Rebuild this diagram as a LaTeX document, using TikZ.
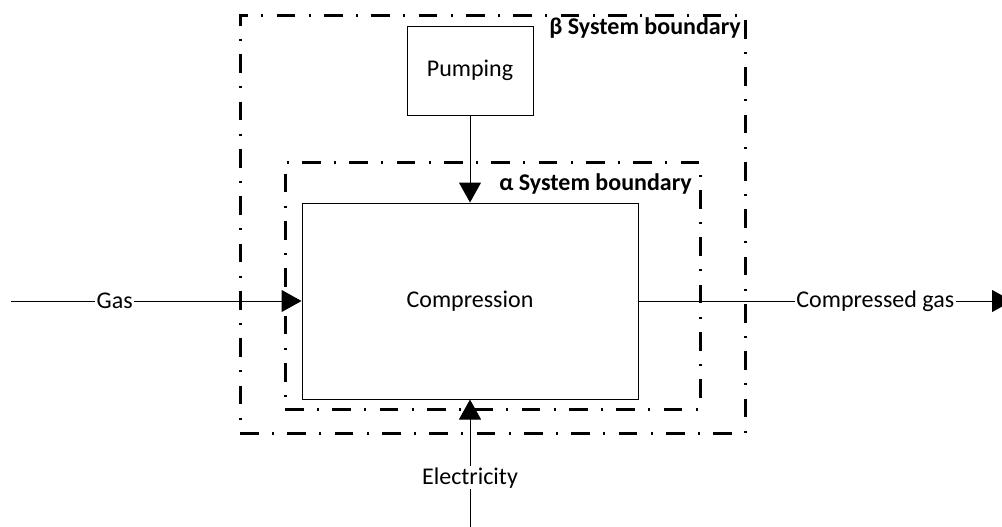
\documentclass[tikz,border=0pt]{standalone}
\usepackage{fontspec}
\setmainfont{Carlito}
\usetikzlibrary{arrows.meta}
\begin{document}
\begin{tikzpicture}[x=0.75pt,y=-0.75pt,
  every node/.style={font=\fontsize{18}{22}\selectfont},
  box/.style={draw, line width=0.75pt, inner sep=0pt},
  boundary/.style={draw, line width=2.25pt, dash pattern=on 14pt off 10pt on 1.5pt off 10pt, inner sep=0pt},
  flow/.style={line width=0.75pt, -{Triangle[length=15pt,width=16.5pt]}},
  lbl/.style={fill=white, inner sep=1pt},
  blabel/.style={font=\fontsize{18}{22}\selectfont\bfseries, inner sep=0pt}]
\useasboundingbox (0,0) rectangle (1002,526);
\node[boundary, minimum width=378.75pt, minimum height=313.5pt] (beta) at (492.5,224) {};
\node[boundary, minimum width=311.25pt, minimum height=185.25pt] (alpha) at (492.5,285.5) {};
\node[box, minimum width=252pt, minimum height=147pt] (comp) at (470,301) {Compression};
\node[box, minimum width=94.5pt, minimum height=66.75pt] (pump) at (470,70.5) {Pumping};
\node[blabel, anchor=base east] (betalbl) at (741,34) {β System boundary};
\node[blabel, anchor=base east] (alphalbl) at (692,190) {α System boundary};
\coordinate (gasin) at (11,301);
\coordinate (cgout) at (1012,301);
\coordinate (elin) at (470,528);
\draw[flow] (gasin) -- (comp.west) node[lbl, pos=0.357] (gaslbl) {Gas};
\draw[flow] (comp.east) -- (cgout) node[lbl, pos=0.634] (cglbl) {Compressed gas};
\draw[flow] (elin) -- (comp.south) node[lbl, pos=0.39] (ellbl) {Electricity};
\draw[flow] (pump.south) -- (comp.north);
\end{tikzpicture}
\end{document}
